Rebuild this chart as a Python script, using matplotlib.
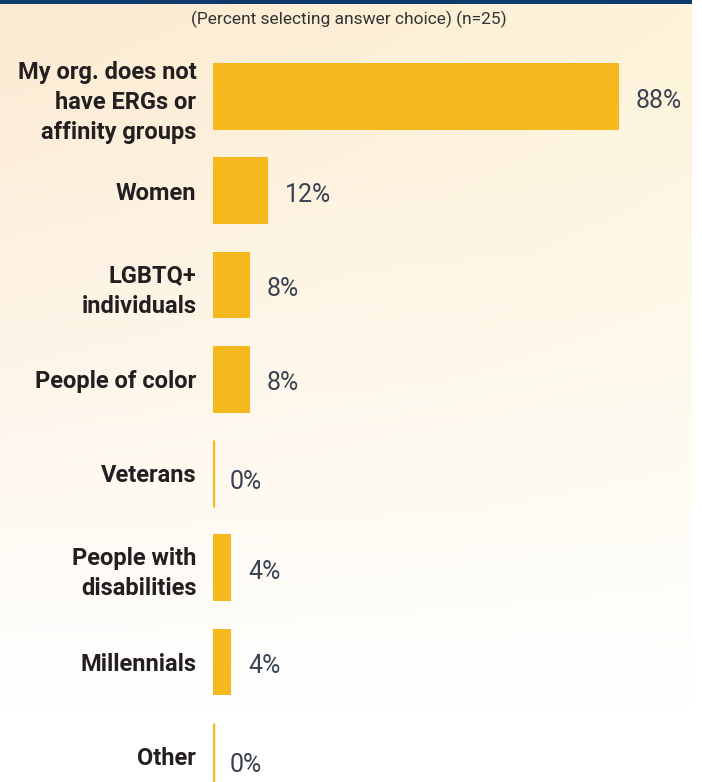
import matplotlib
matplotlib.use("Agg")
import matplotlib.pyplot as plt
import numpy as np
from matplotlib import font_manager
from matplotlib.patches import Rectangle


CATEGORIES = [
    "My org. does not\nhave ERGs or\naffinity groups",
    "Women",
    "LGBTQ+\nindividuals",
    "People of color",
    "Veterans",
    "People with\ndisabilities",
    "Millennials",
    "Other",
]
PERCENTS = [88, 12, 8, 8, 0, 4, 4, 0]
SUBTITLE = "(Percent selecting answer choice) (n=25)"

BAR_COLOR = "#F5B91D"
LABEL_COLOR = "#231F20"
VALUE_COLOR = "#3A4252"
NAVY = "#0D3B6E"


def _pick_family(candidates):
    for name in candidates:
        try:
            font_manager.findfont(name, fallback_to_default=False)
            return name
        except ValueError:
            continue
    return "DejaVu Sans"


FAMILY = _pick_family(["Roboto", "Open Sans", "DejaVu Sans"])

W, H, DPI = 702, 782, 100
fig = plt.figure(figsize=(W / DPI, H / DPI), dpi=DPI, facecolor="white")

# cream-to-white background panel
bg = fig.add_axes([0, 0, 692 / W, 1], zorder=0)
top_left = np.array([252, 234, 209]) / 255
top_right = np.array([253, 243, 216]) / 255
white = np.ones(3)
yy, xx = np.mgrid[0:1:200j, 0:1:100j]
top = top_left[None, None, :] * (1 - xx[..., None]) + top_right[None, None, :] * xx[..., None]
fade = np.clip(yy / 0.9, 0, 1)[..., None]
img = top * (1 - fade) + white * fade
bg.imshow(img, aspect="auto", extent=[0, 1, 1, 0], interpolation="bilinear")
bg.set_axis_off()

fig.patches.append(
    Rectangle((0, 1 - 4 / H), 692 / W, 4 / H, transform=fig.transFigure,
              facecolor=NAVY, edgecolor="none", zorder=5)
)

ax = fig.add_axes([213 / W, 0, 479 / W, 1], zorder=1)
ax.patch.set_alpha(0)

px_per_unit = (619 - 213) / 88
ax.set_xlim(0, 479 / px_per_unit)
spacing = 94.25
ax.set_ylim((H - 96.5) / spacing, -96.5 / spacing)

y = np.arange(len(CATEGORIES))
linewidths = [2.4 if v == 0 else 0 for v in PERCENTS]
ax.barh(y, PERCENTS, height=0.71, color=BAR_COLOR, edgecolor=BAR_COLOR,
        linewidth=linewidths)

for yi, v in zip(y, PERCENTS):
    ax.annotate(f"{v}%", (v, yi), xytext=(12, -3 if v else -6),
                textcoords="offset points", ha="left", va="center",
                fontsize=18, color=VALUE_COLOR, family=FAMILY)

ax.set_yticks(y)
ax.set_yticklabels(CATEGORIES, fontsize=17, fontweight="bold",
                   color=LABEL_COLOR, family=FAMILY, linespacing=1.4)
ax.tick_params(axis="y", length=0, pad=12)
ax.set_xticks([])
for spine in ax.spines.values():
    spine.set_visible(False)

fig.text(349 / W, 1 - 19 / H, SUBTITLE, ha="center", va="center",
         fontsize=12.5, color="#333333", family=FAMILY)

fig.savefig("out.png", dpi=DPI, facecolor="white")
